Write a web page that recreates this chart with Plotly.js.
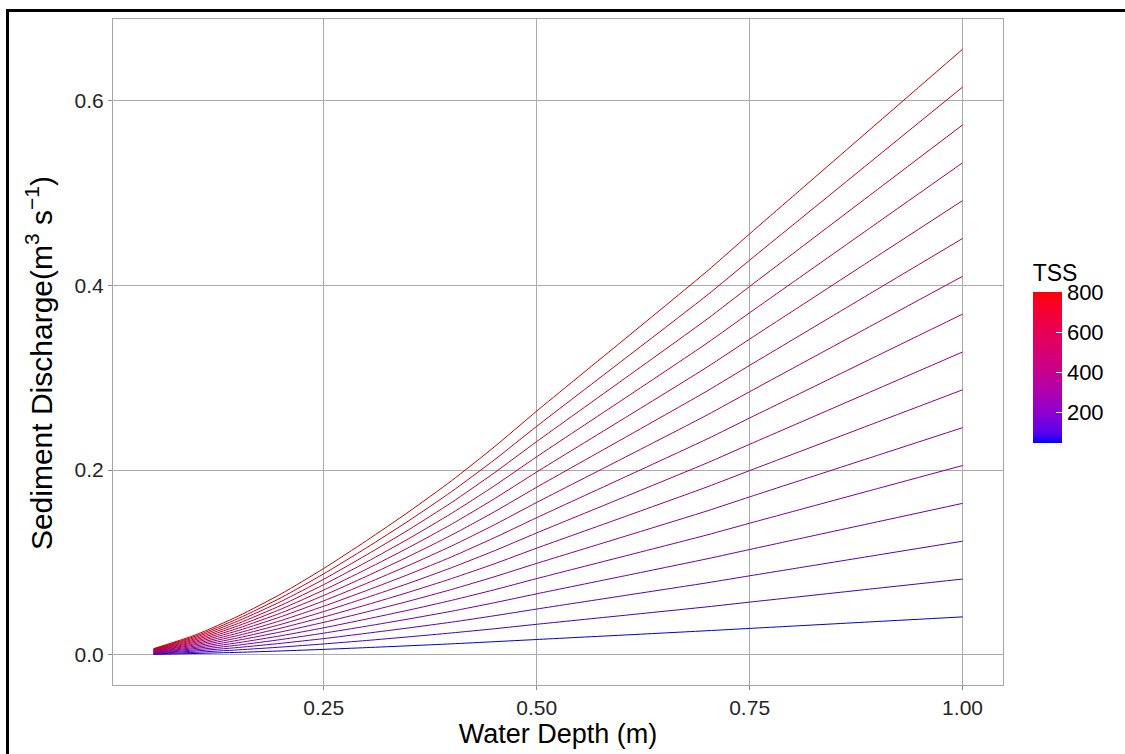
<!DOCTYPE html>
<html>
<head>
<meta charset="utf-8">
<script src="https://cdn.plot.ly/plotly-3.0.1.min.js"></script>
<style>
html,body{margin:0;padding:0;background:#fff;}
#wrap{position:relative;width:1125px;height:754px;overflow:hidden;}
#chart{position:absolute;left:0;top:0;width:1125px;height:754px;}
#frame{position:absolute;left:6px;top:9px;width:2000px;height:2000px;border-left:3px solid #000;border-top:3px solid #000;pointer-events:none;}
</style>
</head>
<body>
<div id="wrap"><div id="chart"></div><div id="frame"></div></div>
<script>
// Water depth (m)
const depth = [0.05,0.10,0.15,0.20,0.25,0.30,0.35,0.40,0.45,0.50,0.60,0.70,0.75,0.80,0.90,1.00];
// TSS levels
const tss = [50,100,150,200,250,300,350,400,450,500,550,600,650,700,750,800];
// Sediment discharge (m3 s-1) per TSS level
const q50  = [0.0004,0.0014,0.0026,0.0041,0.0058,0.0077,0.0097,0.0118,0.0141,0.0165,0.0212,0.0260,0.0285,0.0310,0.0360,0.0410];
const q100 = [0.0008,0.0027,0.0053,0.0083,0.0117,0.0154,0.0194,0.0236,0.0281,0.0330,0.0424,0.0519,0.0570,0.0620,0.0720,0.0820];
const q150 = [0.0012,0.0041,0.0079,0.0124,0.0175,0.0232,0.0291,0.0353,0.0422,0.0495,0.0637,0.0779,0.0855,0.0930,0.1080,0.1230];
const q200 = [0.0016,0.0054,0.0105,0.0165,0.0234,0.0309,0.0388,0.0471,0.0563,0.0660,0.0849,0.1039,0.1140,0.1240,0.1440,0.1640];
const q250 = [0.0020,0.0068,0.0131,0.0206,0.0292,0.0386,0.0484,0.0589,0.0703,0.0825,0.1061,0.1298,0.1425,0.1550,0.1800,0.2050];
const q300 = [0.0024,0.0081,0.0158,0.0248,0.0351,0.0463,0.0581,0.0707,0.0844,0.0990,0.1273,0.1558,0.1710,0.1860,0.2160,0.2460];
const q350 = [0.0028,0.0095,0.0184,0.0289,0.0409,0.0540,0.0678,0.0825,0.0984,0.1155,0.1485,0.1818,0.1995,0.2170,0.2520,0.2870];
const q400 = [0.0033,0.0109,0.0210,0.0330,0.0468,0.0618,0.0775,0.0943,0.1125,0.1320,0.1698,0.2078,0.2280,0.2480,0.2880,0.3280];
const q450 = [0.0037,0.0122,0.0236,0.0371,0.0526,0.0695,0.0872,0.1060,0.1266,0.1485,0.1910,0.2337,0.2565,0.2790,0.3240,0.3690];
const q500 = [0.0041,0.0136,0.0263,0.0413,0.0584,0.0772,0.0969,0.1178,0.1406,0.1650,0.2122,0.2597,0.2850,0.3100,0.3600,0.4100];
const q550 = [0.0045,0.0149,0.0289,0.0454,0.0643,0.0849,0.1066,0.1296,0.1547,0.1815,0.2334,0.2857,0.3135,0.3410,0.3960,0.4510];
const q600 = [0.0049,0.0163,0.0315,0.0495,0.0701,0.0926,0.1163,0.1414,0.1688,0.1980,0.2546,0.3116,0.3420,0.3720,0.4320,0.4920];
const q650 = [0.0053,0.0176,0.0341,0.0536,0.0760,0.1003,0.1259,0.1532,0.1828,0.2145,0.2758,0.3376,0.3705,0.4030,0.4680,0.5330];
const q700 = [0.0057,0.0190,0.0368,0.0578,0.0818,0.1081,0.1356,0.1649,0.1969,0.2310,0.2971,0.3636,0.3990,0.4340,0.5040,0.5740];
const q750 = [0.0061,0.0203,0.0394,0.0619,0.0877,0.1158,0.1453,0.1767,0.2109,0.2475,0.3183,0.3895,0.4275,0.4650,0.5400,0.6150];
const q800 = [0.0065,0.0217,0.0420,0.0660,0.0935,0.1235,0.1550,0.1885,0.2250,0.2640,0.3395,0.4155,0.4560,0.4960,0.5760,0.6560];
const seriesQ = [q50,q100,q150,q200,q250,q300,q350,q400,q450,q500,q550,q600,q650,q700,q750,q800];
const colorTicks = [200,400,600,800];

// blue -> red gradient interpolated in CIELAB (like ggplot's scale_colour_gradient)
function toLin(c){c/=255;return c<=0.04045?c/12.92:Math.pow((c+0.055)/1.055,2.4);}
function fromLin(c){c=c<=0.0031308?12.92*c:1.055*Math.pow(c,1/2.4)-0.055;return Math.round(Math.max(0,Math.min(1,c))*255);}
const Wn=[0.95047,1,1.08883];
function f(t){return t>0.008856?Math.cbrt(t):7.787*t+16/116;}
function finv(t){const t3=t*t*t;return t3>0.008856?t3:(t-16/116)/7.787;}
function rgb2lab(r,g,b){
  const R=toLin(r),G=toLin(g),B=toLin(b);
  const X=(0.4124*R+0.3576*G+0.1805*B)/Wn[0],Y=(0.2126*R+0.7152*G+0.0722*B)/Wn[1],Z=(0.0193*R+0.1192*G+0.9505*B)/Wn[2];
  const fx=f(X),fy=f(Y),fz=f(Z);
  return [116*fy-16,500*(fx-fy),200*(fy-fz)];
}
function lab2rgb(L,a,b,k){
  k=k||1;
  const fy=(L+16)/116,fx=a/500+fy,fz=fy-b/200;
  const X=finv(fx)*Wn[0],Y=finv(fy)*Wn[1],Z=finv(fz)*Wn[2];
  const R=3.2406*X-1.5372*Y-0.4986*Z,G=-0.9689*X+1.8758*Y+0.0415*Z,B=0.0557*X-0.2040*Y+1.0570*Z;
  return 'rgb('+Math.round(fromLin(R)*k)+','+Math.round(fromLin(G)*k)+','+Math.round(fromLin(B)*k)+')';
}
const labLow=rgb2lab(0,0,255),labHigh=rgb2lab(255,0,0);
function grad(t,k){return lab2rgb(labLow[0]+(labHigh[0]-labLow[0])*t,labLow[1]+(labHigh[1]-labLow[1])*t,labLow[2]+(labHigh[2]-labLow[2])*t,k);}
const cmin=50,cmax=800;
const cscale=[];for(let i=0;i<=20;i++){cscale.push([i/20,grad(i/20)]);}

const FONT='Liberation Sans, Arial, sans-serif';
const traces=[];
seriesQ.forEach((q,i)=>{
  traces.push({type:'scatter',mode:'lines',x:depth,y:q,name:String(tss[i]),
    line:{color:grad((tss[i]-cmin)/(cmax-cmin),0.78),width:1,shape:'spline',smoothing:0.6},
    showlegend:false,hoverinfo:'x+y+name'});
});
traces.push({type:'scatter',mode:'markers',x:[null],y:[null],showlegend:false,hoverinfo:'skip',
  marker:{color:[cmin],cmin:cmin,cmax:cmax,colorscale:cscale,showscale:true,
    colorbar:{x:1.0334,xanchor:'left',xpad:0,y:0.3634,yanchor:'bottom',ypad:0,
      thickness:29,thicknessmode:'pixels',len:182,lenmode:'pixels',outlinewidth:0,
      tickvals:colorTicks,ticktext:colorTicks.map(String),ticks:'inside',ticklen:6,tickcolor:'#ffffff',tickwidth:1,
      tickfont:{family:FONT,size:22,color:'#000'},
      title:{text:'TSS',side:'top',font:{family:FONT,size:23,color:'#000'}}}}});

const axisCommon={showgrid:true,gridcolor:'#ababab',gridwidth:1,zeroline:false,showline:true,mirror:true,
  linecolor:'#a6a6a6',linewidth:1,ticks:'outside',ticklen:4,tickcolor:'#8c8c8c',tickwidth:1,
  tickfont:{family:FONT,size:21,color:'#262626'}};

const layout={width:1125,height:754,margin:{l:113,r:122,t:19,b:69},
  paper_bgcolor:'rgba(0,0,0,0)',plot_bgcolor:'#fff',
  xaxis:Object.assign({},axisCommon,{range:[0.0025,1.0475],tickvals:[0.25,0.5,0.75,1.0],ticktext:['0.25','0.50','0.75','1.00'],
    title:{text:'Water Depth (m)',font:{family:FONT,size:27,color:'#000'},standoff:4}}),
  yaxis:Object.assign({},axisCommon,{range:[-0.0328,0.6888],tickvals:[0,0.2,0.4,0.6],ticktext:['0.0','0.2','0.4','0.6']}),
  annotations:[{text:'Sediment Discharge(m<sup>3</sup> s<sup>\u22121</sup>)',xref:'paper',yref:'paper',
    x:-0.083,y:0.4835,xanchor:'center',yanchor:'middle',textangle:-90,showarrow:false,
    font:{family:FONT,size:30,color:'#000'}}],
  showlegend:false};

Plotly.newPlot('chart',traces,layout,{displayModeBar:false,staticPlot:true});
</script>
</body>
</html>
